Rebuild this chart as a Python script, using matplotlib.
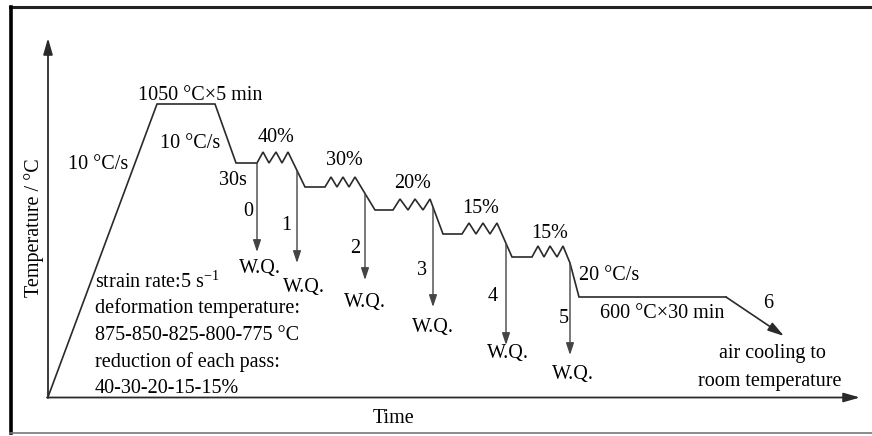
import numpy as np
import matplotlib
matplotlib.use("Agg")
import matplotlib.pyplot as plt

plt.rcParams['font.family'] = ['Liberation Serif', 'DejaVu Serif']
plt.rcParams['mathtext.fontset'] = 'stix'

# schematic process path (time, temperature), in picture units
path_time = [48, 157, 215, 236, 257,
             263, 269, 276, 282, 288, 305, 325,
             331, 337, 343, 349, 355, 375, 393,
             400, 408, 415, 423, 430, 443, 462,
             469, 476, 483, 490, 497, 512, 532,
             538, 544, 550, 557, 563, 570, 579, 726]
path_temp = [397, 104, 104, 163, 163,
             152, 163, 152, 163, 152, 187, 187,
             177, 187, 177, 187, 177, 210, 210,
             199, 210, 199, 210, 199, 234, 234,
             223, 234, 223, 234, 223, 257, 257,
             246, 257, 246, 257, 246, 263, 297, 297]

# water quench lines: time of quench, end of arrow, label
wq_time = [257, 297, 365, 433, 506, 570]
wq_end = [252, 263, 280, 307, 345, 355]
wq_ids = ['0', '1', '2', '3', '4', '5']

# reduction labels per pass
pass_labels = ['40%', '30%', '20%', '15%', '15%']

notes = ['strain rate:5 s$^{\\mathregular{-1}}$',
         'deformation temperature:',
         '875-850-825-800-775 °C',
         'reduction of each pass:',
         '40-30-20-15-15%']

fig = plt.figure(figsize=(8.72, 4.36), dpi=100)
ax = fig.add_axes([0, 0, 1, 1])
ax.set_xlim(0, 872)
ax.set_ylim(436, 0)
ax.axis('off')

fs = 14.5
ink = '#2a2a2a'

# frame around the figure
ax.plot([10, 872], [7.5, 7.5], color='#222222', lw=2.2, clip_on=False)
ax.plot([10.5, 10.5], [7, 433], color='black', lw=2.6, clip_on=False)
ax.plot([10, 872], [433, 433], color='#777777', lw=1.2, clip_on=False)

# axes with arrows
ax.annotate('', xy=(48, 38), xytext=(48, 398),
            arrowprops=dict(arrowstyle='-|>,head_length=0.7,head_width=0.2',
                            mutation_scale=14, color=ink, lw=1.3, shrinkA=0, shrinkB=0))
ax.annotate('', xy=(860, 397.5), xytext=(47, 397.5),
            arrowprops=dict(arrowstyle='-|>,head_length=0.7,head_width=0.2',
                            mutation_scale=14, color=ink, lw=1.3, shrinkA=0, shrinkB=0))

# process path
ax.plot(path_time, path_temp, color=ink, lw=1.2, solid_joinstyle='miter')

# air cooling arrow
ax.annotate('', xy=(784, 336), xytext=(path_time[-1], path_temp[-1]),
            arrowprops=dict(arrowstyle='-|>,head_length=0.7,head_width=0.2',
                            mutation_scale=14, color=ink, lw=1.2, shrinkA=0, shrinkB=0))

# quench arrows
wq_start = np.interp(wq_time, path_time, path_temp)
for t, y0, y1 in zip(wq_time, wq_start, wq_end):
    ax.annotate('', xy=(t, y1), xytext=(t, y0),
                arrowprops=dict(arrowstyle='-|>,head_length=0.6,head_width=0.2',
                                mutation_scale=12, color='#444444', lw=1.0,
                                shrinkA=0, shrinkB=0))

# labels
ax.text(34, 228, 'Temperature / °C', rotation=90, ha='center', va='center', fontsize=fs)
ax.text(394, 418, 'Time', ha='center', va='center', fontsize=fs)

ax.text(200, 95, '1050 °C×5 min', ha='center', va='center', fontsize=fs)
ax.text(98, 164, '10 °C/s', ha='center', va='center', fontsize=fs)
ax.text(190, 143, '10 °C/s', ha='center', va='center', fontsize=fs)
ax.text(233, 180, '30s', ha='center', va='center', fontsize=fs)

pass_x = [276, 344, 413, 481, 550]
pass_y = [137, 160, 183, 208, 233]
for lab, x, y in zip(pass_labels, pass_x, pass_y):
    ax.text(x, y, lab, ha='center', va='center', fontsize=fs)

id_x = [248, 286, 355, 422, 493, 564]
id_y = [211, 225, 248, 270, 296, 318]
for lab, x, y in zip(wq_ids, id_x, id_y):
    ax.text(x, y, lab, ha='center', va='center', fontsize=fs)

wq_x = [260, 304, 365, 433, 508, 573]
wq_y = [268, 287, 302, 327, 353, 374]
for x, y in zip(wq_x, wq_y):
    ax.text(x, y, 'W.Q.', ha='center', va='center', fontsize=fs)

ax.text(609, 275, '20 °C/s', ha='center', va='center', fontsize=fs)
ax.text(662, 313, '600 °C×30 min', ha='center', va='center', fontsize=fs)
ax.text(768, 303, '6', ha='center', va='center', fontsize=fs)
ax.text(772, 353, 'air cooling to', ha='center', va='center', fontsize=fs)
ax.text(770, 381, 'room temperature', ha='center', va='center', fontsize=fs)

note_y = [282, 308, 335, 362, 388]
for line, y in zip(notes, note_y):
    ax.text(95, y, line, ha='left', va='center', fontsize=fs)

fig.savefig('out.png', dpi=100)
